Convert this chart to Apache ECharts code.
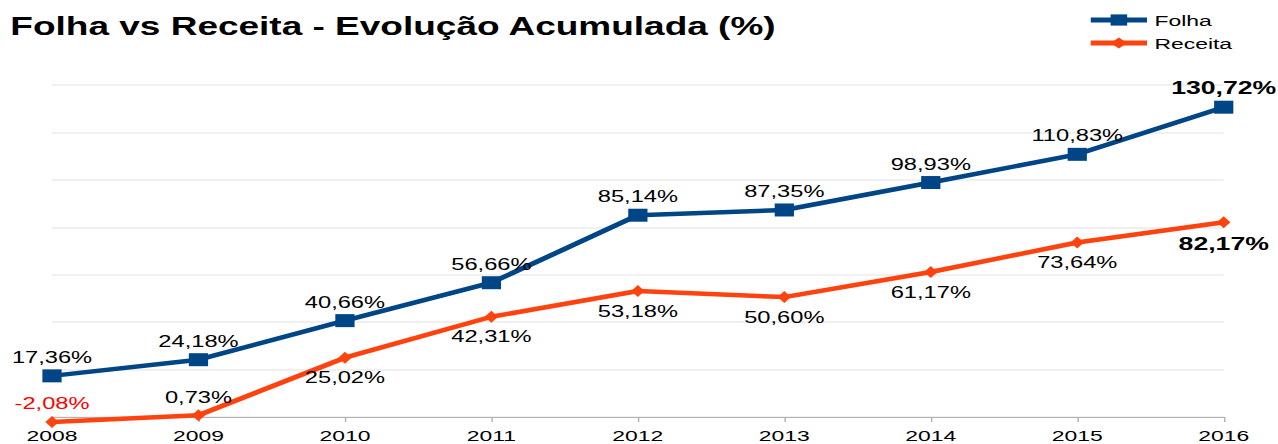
<!DOCTYPE html>
<html>
<head>
<meta charset="utf-8">
<script src="https://cdn.jsdelivr.net/npm/echarts@6/dist/echarts.min.js"></script>
<style>
html,body{margin:0;padding:0;background:#fff;overflow:hidden;}
#wrap{width:1278px;height:444px;overflow:hidden;position:relative;}
#chart{width:863.5px;height:444px;transform:scaleX(1.48);transform-origin:0 0;}
</style>
</head>
<body>
<div id="wrap"><div id="chart"></div></div>
<script>
const title = 'Folha vs Receita - Evolução Acumulada (%)';
const years = ['2008','2009','2010','2011','2012','2013','2014','2015','2016'];
const folha = [17.36, 24.18, 40.66, 56.66, 85.14, 87.35, 98.93, 110.83, 130.72];
const receita = [-2.08, 0.73, 25.02, 42.31, 53.18, 50.60, 61.17, 73.64, 82.17];
const seriesNames = ['Folha', 'Receita'];

const fmt = v => v.toFixed(2).replace('.', ',') + '%';
const FONT = '"Liberation Sans", Arial, sans-serif';
const baseLabel = {show: true, fontFamily: FONT, fontSize: 16, color: '#000', distance: 4,
  formatter: p => fmt(p.value)};
const boldLabel = {fontWeight: 'bold', fontSize: 18};

const folhaData = folha.map((v, i) => {
  const d = {value: v};
  if (i === folha.length - 1) d.label = boldLabel;
  return d;
});
const receitaData = receita.map((v, i) => {
  const d = {value: v, label: {position: i < 2 ? 'top' : 'bottom', distance: i < 2 ? 4 : 6}};
  if (v < 0) d.label.color = '#ff0000';
  if (i === receita.length - 1) Object.assign(d.label, boldLabel);
  return d;
});

const chart = echarts.init(document.getElementById('chart'), null, {renderer: 'svg'});
chart.setOption({
  animation: false,
  backgroundColor: '#fff',
  title: {text: title, left: 7, top: 14, padding: 0,
    textStyle: {fontFamily: FONT, fontSize: 25, fontWeight: 'bold', color: '#000'}},
  legend: {orient: 'vertical', left: 734.5, top: 12, padding: 0, itemGap: 7,
    itemWidth: 38, itemHeight: 14,
    lineStyle: {width: 5},
    textStyle: {fontFamily: FONT, fontSize: 15.5, color: '#000'},
    data: seriesNames},
  grid: {left: 35.14, right: 37.16, top: 85.2, height: 379.2,
    containLabel: false, outerBoundsMode: 'none'},
  xAxis: {type: 'category', data: years, boundaryGap: false,
    axisLine: {onZero: true, lineStyle: {color: '#b3b3b3', width: 1}},
    axisTick: {show: true, length: 5, alignWithLabel: true, lineStyle: {color: '#b3b3b3'}},
    axisLabel: {fontFamily: FONT, fontSize: 15.5, color: '#000', margin: -37},
    splitLine: {show: false}},
  yAxis: {type: 'value', min: -20, max: 140, interval: 20,
    axisLine: {show: false}, axisTick: {show: false}, axisLabel: {show: false},
    splitLine: {lineStyle: {color: '#ebebeb', width: 1.5}}},
  series: [
    {name: seriesNames[0], type: 'line', data: folhaData, symbol: 'rect', symbolSize: 13,
      color: '#004586', lineStyle: {width: 4.5, color: '#004586'},
      itemStyle: {color: '#004586'},
      label: Object.assign({}, baseLabel, {position: 'top'}), z: 3},
    {name: seriesNames[1], type: 'line', data: receitaData, symbol: 'diamond', symbolSize: [9, 12],
      color: '#ff420e', lineStyle: {width: 4.5, color: '#ff420e'},
      itemStyle: {color: '#ff420e'},
      label: Object.assign({}, baseLabel), z: 2}
  ]
});
</script>
</body>
</html>
